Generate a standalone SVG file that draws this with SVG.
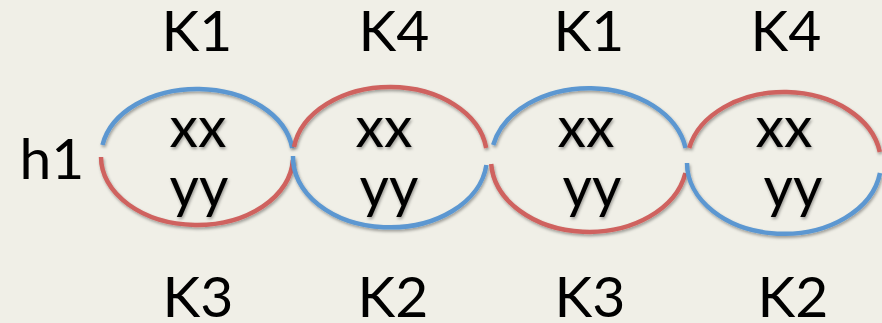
<svg xmlns="http://www.w3.org/2000/svg" width="882" height="323" viewBox="0 0 882 323">
<defs>
<filter id="sh" x="-10%" y="-10%" width="120%" height="130%">
<feDropShadow dx="1" dy="2" stdDeviation="1.5" flood-color="#000" flood-opacity="0.35"/>
</filter>
</defs>
<style>
.t{font-family:Lato,"Open Sans","Liberation Sans",sans-serif;font-size:57px;fill:#000;text-anchor:middle}
.b{fill:none;stroke:#5B97D1;stroke-width:4.5}
.r{fill:none;stroke:#CF625F;stroke-width:4.5}
</style>
<rect width="882" height="323" fill="#F0EFE7"/>
<g id="labels">
<text class="t" x="197" y="51">K1</text>
<text class="t" x="394" y="51">K4</text>
<text class="t" x="589" y="51">K1</text>
<text class="t" x="786" y="51">K4</text>
<text class="t" x="198" y="317">K3</text>
<text class="t" x="393" y="317">K2</text>
<text class="t" x="590" y="317">K3</text>
<text class="t" x="793" y="317">K2</text>
<text class="t" x="52" y="179">h1</text>
</g>
<g id="connectors"></g>
<g id="node1" filter="url(#sh)">
<path class="b" d="M102.5,145 A96,68 0 0 1 292.2,148"/>
<path class="r" d="M101,157 A96,68 0 0 0 292.9,160"/>
<text class="t" x="198" y="147">xx</text>
<text class="t" x="199" y="207">yy</text>
</g>
<g id="node2" filter="url(#sh)">
<path class="r" d="M294,147 A97,70 0 0 1 486.2,148"/>
<path class="b" d="M293,156 A97,70 0 0 0 486.4,165"/>
<text class="t" x="384" y="147">xx</text>
<text class="t" x="389" y="207">yy</text>
</g>
<g id="node3" filter="url(#sh)">
<path class="b" d="M493.2,145 A98,72 0 0 1 685.6,148"/>
<path class="r" d="M491.2,164 A98,72 0 0 0 685.4,173"/>
<text class="t" x="586" y="147">xx</text>
<text class="t" x="592" y="207">yy</text>
</g>
<g id="node4" filter="url(#sh)">
<path class="r" d="M689.2,148 A97,71 0 0 1 879.8,152"/>
<path class="b" d="M687,163 A97,71 0 0 0 880,173"/>
<text class="t" x="784" y="147">xx</text>
<text class="t" x="793" y="207">yy</text>
</g>
</svg>
